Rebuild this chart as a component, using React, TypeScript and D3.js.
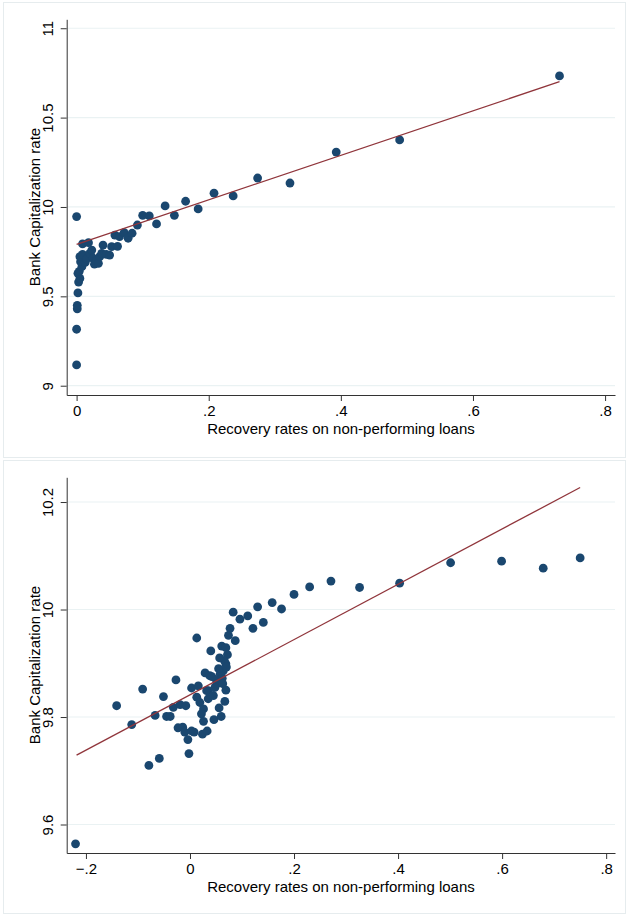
import React, { useRef, useEffect } from 'react';
import * as d3 from 'd3';

// top panel: recovery rate vs bank capitalization (levels)
const topX = [
  0.0, 0.0, 0.0, 0.001, 0.001, 0.002, 0.003, 0.005, 0.002, 0.004, 0.008, 0.006, 0.005, 0.009,
  0.009, 0.013, 0.015, 0.018, 0.02, 0.023, 0.025, 0.027, 0.03, 0.033, 0.035, 0.038, 0.04, 0.045,
  0.05, 0.053, 0.058, 0.062, 0.065, 0.072, 0.078, 0.084, 0.092, 0.1, 0.11, 0.121, 0.134, 0.148,
  0.165, 0.184, 0.208, 0.237, 0.274, 0.323, 0.393, 0.489, 0.731
];
const topY = [
  9.946, 9.116, 9.316, 9.43, 9.45, 9.519, 9.58, 9.6, 9.629, 9.64, 9.666, 9.694, 9.722, 9.735,
  9.793, 9.69, 9.71, 9.8, 9.74, 9.759, 9.713, 9.68, 9.7, 9.685, 9.722, 9.74, 9.787, 9.735,
  9.731, 9.778, 9.843, 9.78, 9.834, 9.856, 9.825, 9.853, 9.899, 9.953, 9.95, 9.905, 10.006, 9.953,
  10.032, 9.989, 10.077, 10.062, 10.162, 10.134, 10.307, 10.375, 10.733
];
const topFitX = [0, 0.731];
const topFitY = [9.791, 10.701];
const topXTicks = [0, 0.2, 0.4, 0.6, 0.8];
const topYTicks = [9, 9.5, 10, 10.5, 11];

// bottom panel
const botX = [
  0.75, 0.679, 0.599, 0.501, 0.403, 0.326, 0.271, 0.23, 0.2, 0.158, 0.176, 0.13, 0.111, 0.096,
  0.083, 0.141, 0.121, 0.077, 0.074, 0.087, 0.013, 0.061, 0.069, 0.04, 0.072, 0.069, 0.064, 0.058,
  0.029, 0.038, -0.027, 0.051, 0.003, 0.016, 0.069, -0.091, -0.051, 0.035, 0.052, 0.062,
  -0.141, -0.112, -0.067, -0.045, -0.038, -0.032, -0.019, -0.008, 0.013, 0.019, 0.026, 0.022,
  0.026, 0.046, 0.06, 0.056, 0.067, 0.035, 0.032, -0.023, -0.014, -0.01, 0.003, 0.008, -0.004,
  0.024, 0.033, -0.059, -0.079, -0.002, 0.045, 0.048, 0.055, 0.066, 0.042, 0.063, 0.057,
  0.07, -0.22
];
const botY = [
  10.096, 10.077, 10.09, 10.087, 10.049, 10.041, 10.053, 10.042, 10.028, 10.013, 10.001, 10.005, 9.988, 9.982,
  9.995, 9.976, 9.965, 9.965, 9.952, 9.942, 9.947, 9.932, 9.929, 9.923, 9.916, 9.899, 9.886, 9.88,
  9.882, 9.877, 9.869, 9.868, 9.854, 9.858, 9.85, 9.852, 9.838, 9.849, 9.862, 9.872,
  9.821, 9.786, 9.803, 9.801, 9.801, 9.818, 9.823, 9.821, 9.837, 9.827, 9.815, 9.806,
  9.792, 9.795, 9.801, 9.817, 9.829, 9.834, 9.849, 9.78, 9.781, 9.772, 9.774, 9.772, 9.758,
  9.768, 9.774, 9.723, 9.71, 9.732, 9.84, 9.855, 9.89, 9.905, 9.875, 9.862, 9.91,
  9.893, 9.564
];
const botFitX = [-0.218, 0.75];
const botFitY = [9.729, 10.227];
const botXTicks = [-0.2, 0, 0.2, 0.4, 0.6, 0.8];
const botYTicks = [9.6, 9.8, 10, 10.2];

const xTitle = 'Recovery rates on non-performing loans';
const yTitle = 'Bank Capitalization rate';

const FONT = '"Liberation Sans", Arial, Helvetica, sans-serif';
const FS = 15;
const fmtX = (d: number) => (d === 0 ? '0' : d3.format('.1f')(d).replace('0.', '.'));

function drawPanel(svg: any, p: any) {
  const g = svg.append('g');

  // graph region frame
  g.append('rect')
    .attr('x', 3.5)
    .attr('y', p.top + 0.5)
    .attr('width', 622)
    .attr('height', p.height)
    .attr('fill', '#fff')
    .attr('stroke', '#e6ecee');

  const x = d3.scaleLinear().domain(p.xDomain).range([66.7, 615]);
  const y = d3.scaleLinear().domain(p.yDomain).range([p.top + 393, p.top + 17.3]);

  // gridlines
  g.selectAll('.grid')
    .data(p.yTicks)
    .enter()
    .append('line')
    .attr('x1', 67)
    .attr('x2', 615)
    .attr('y1', (d: number) => y(d))
    .attr('y2', (d: number) => y(d))
    .attr('stroke', '#eaf2f3')
    .attr('stroke-width', 1.2);

  // y axis
  const ya = g
    .append('g')
    .attr('transform', 'translate(66.7,0)')
    .call(d3.axisLeft(y).tickValues(p.yTicks).tickSize(6).tickSizeOuter(0).tickFormat((d: any) => String(d)));
  ya.selectAll('path, line').attr('stroke', '#333');
  ya.selectAll('text')
    .attr('transform', 'rotate(-90)')
    .attr('x', 0)
    .attr('y', -14)
    .attr('dy', 0)
    .attr('text-anchor', 'middle')
    .attr('fill', '#000')
    .attr('font-size', FS)
    .attr('font-family', FONT);

  // x axis
  const xa = g
    .append('g')
    .attr('transform', 'translate(0,' + (p.top + 393) + ')')
    .call(d3.axisBottom(x).tickValues(p.xTicks).tickSize(6).tickSizeOuter(0).tickPadding(4).tickFormat(fmtX));
  xa.selectAll('path, line').attr('stroke', '#333');
  xa.selectAll('text').attr('fill', '#000').attr('font-size', FS).attr('font-family', FONT);

  // titles
  g.append('text')
    .attr('x', 341)
    .attr('y', p.top + 432)
    .attr('text-anchor', 'middle')
    .attr('font-size', FS)
    .attr('font-family', FONT)
    .text(xTitle);
  g.append('text')
    .attr('transform', 'translate(40,' + (p.top + 205) + ') rotate(-90)')
    .attr('text-anchor', 'middle')
    .attr('font-size', FS)
    .attr('font-family', FONT)
    .text(yTitle);

  // points
  const pts = p.xs.map((v: number, i: number) => [v, p.ys[i]]);
  g.selectAll('.dot')
    .data(pts)
    .enter()
    .append('circle')
    .attr('cx', (d: number[]) => x(d[0]))
    .attr('cy', (d: number[]) => y(d[1]))
    .attr('r', 4.4)
    .attr('fill', '#1a476f');

  // fitted line
  const fit = p.fitX.map((v: number, i: number) => [v, p.fitY[i]]);
  g.append('path')
    .datum(fit)
    .attr('fill', 'none')
    .attr('stroke', '#90353b')
    .attr('stroke-width', 1.3)
    .attr(
      'd',
      d3
        .line()
        .x((d: any) => x(d[0]))
        .y((d: any) => y(d[1]))
    );
}

export default function App() {
  const ref = useRef<SVGSVGElement>(null);

  useEffect(() => {
    const svg = d3.select(ref.current);
    svg.selectAll('*').remove();

    drawPanel(svg, {
      top: 2,
      height: 455,
      xDomain: [-0.015, 0.815],
      yDomain: [8.948, 11.05],
      xs: topX,
      ys: topY,
      fitX: topFitX,
      fitY: topFitY,
      xTicks: topXTicks,
      yTicks: topYTicks
    });

    drawPanel(svg, {
      top: 460,
      height: 453,
      xDomain: [-0.237, 0.817],
      yDomain: [9.547, 10.246],
      xs: botX,
      ys: botY,
      fitX: botFitX,
      fitY: botFitY,
      xTicks: botXTicks,
      yTicks: botYTicks
    });
  }, []);

  return (
    <svg
      ref={ref}
      width={630}
      height={916}
      style={{ position: 'absolute', left: 0, top: 0, background: '#fff' }}
    />
  );
}
